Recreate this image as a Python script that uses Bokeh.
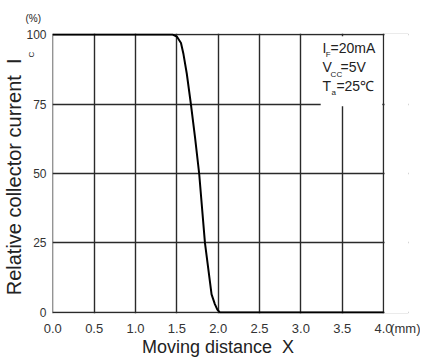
import math
from bokeh.plotting import figure
from bokeh.models import Label, BoxAnnotation, FixedTicker, Range1d, Title
from bokeh.embed import file_html
from bokeh.resources import INLINE

# data
distance_mm = [0.0, 1.45, 1.5, 1.55, 1.58, 1.62, 1.67, 1.72, 1.77, 1.84, 1.92, 1.96, 1.99, 2.02, 4.0]
rel_current = [100, 100, 99.3, 97, 93, 86, 75, 63, 50, 25, 6.5, 3, 1, 0, 0]
x_ticks = [0.0, 0.5, 1.0, 1.5, 2.0, 2.5, 3.0, 3.5, 4.0]
x_tick_labels = ["0.0", "0.5", "1.0", "1.5", "2.0", "2.5", "3.0", "3.5", "4.0"]
x_unit_pos = 4.29
y_ticks = [0, 25, 50, 75, 100]

FONT = "Liberation Sans"
GRID = "#2a2a2a"
TXT = "#222222"
NBSP = "\u00a0"

p = figure(frame_width=356, frame_height=280, output_backend="svg", toolbar_location=None,
           x_range=Range1d(-0.004, 4.302), y_range=Range1d(-0.4, 100.4),
           min_border_left=52, min_border_right=12, min_border_top=33, min_border_bottom=36)
p.background_fill_color = "white"
p.border_fill_color = "white"
p.outline_line_color = None

for ax in (p.xaxis[0], p.yaxis[0]):
    ax.major_tick_line_color = None
    ax.minor_tick_line_color = None
    ax.major_tick_out = 0
    ax.major_tick_in = 0
    ax.axis_line_color = None
    ax.major_label_text_font = FONT
    ax.major_label_text_color = "#333333"

p.xaxis.major_label_text_font_size = "13px"
p.yaxis.major_label_text_font_size = "12px"

p.xaxis.ticker = FixedTicker(ticks=x_ticks + [x_unit_pos])
p.xaxis.major_label_overrides = {**{t: s for t, s in zip(x_ticks, x_tick_labels)}, x_unit_pos: "(mm)"}
p.xaxis.major_label_standoff = 7
# trailing spaces keep the title centred under the 0-4 mm grid
p.xaxis.axis_label = "Moving distance" + NBSP + " X" + NBSP * 5
p.xaxis.axis_label_text_font = FONT
p.xaxis.axis_label_text_font_size = "18px"
p.xaxis.axis_label_text_font_style = "normal"
p.xaxis.axis_label_text_color = TXT
p.xaxis.axis_label_standoff = -2

p.yaxis.ticker = FixedTicker(ticks=y_ticks)
p.yaxis.major_label_standoff = 6
# subscript "C" of I_C, pushed to the top end of the axis with non-breaking spaces
p.yaxis.axis_label = NBSP * 107 + "C"
p.yaxis.axis_label_text_font = FONT
p.yaxis.axis_label_text_font_size = "8px"
p.yaxis.axis_label_text_font_style = "normal"
p.yaxis.axis_label_text_color = TXT
p.yaxis.axis_label_standoff = -13

p.xgrid.ticker = FixedTicker(ticks=x_ticks)
p.ygrid.ticker = FixedTicker(ticks=y_ticks)
for g in (p.xgrid[0], p.ygrid[0]):
    g.grid_line_color = GRID
    g.grid_line_width = 1.4

# white area right of the 4.0 border and behind the conditions text
p.add_layout(BoxAnnotation(left=4.012, fill_color="white", fill_alpha=1.0,
                           line_color=None, level="underlay"))
p.add_layout(BoxAnnotation(left=3.24, right=3.985, bottom=74.2, top=99.4,
                           fill_color="white", fill_alpha=1.0, line_color=None, level="underlay"))

p.line(distance_mm, rel_current, line_color="black", line_width=2)

p.add_layout(Title(text="Relative collector current" + NBSP + " I", text_font=FONT,
                   text_font_size="20px", text_font_style="normal", text_color=TXT,
                   align="right", offset=25, standoff=0), "left")
p.add_layout(Title(text="(%)", text_font=FONT, text_font_size="10px", text_font_style="normal",
                   text_color=TXT, align="left", offset=-27, standoff=20), "above")

def lab(text, x, y, size="14px", **kw):
    p.add_layout(Label(x=x, y=y, text=text, text_font=FONT, text_font_size=size,
                       text_color=TXT, **kw))

# conditions
lab("I", 3.263, 92.4)
lab("F", 3.30, 91.2, size="8px")
lab("=20mA", 3.36, 92.4)
lab("V", 3.263, 85.3)
lab("CC", 3.36, 84.1, size="8px")
lab("=5V", 3.48, 85.3)
lab("T", 3.263, 78.8)
lab("a", 3.37, 77.6, size="8px")
lab("=25\u2103", 3.43, 78.8)

open("out.html", "w").write(file_html(p, INLINE))
